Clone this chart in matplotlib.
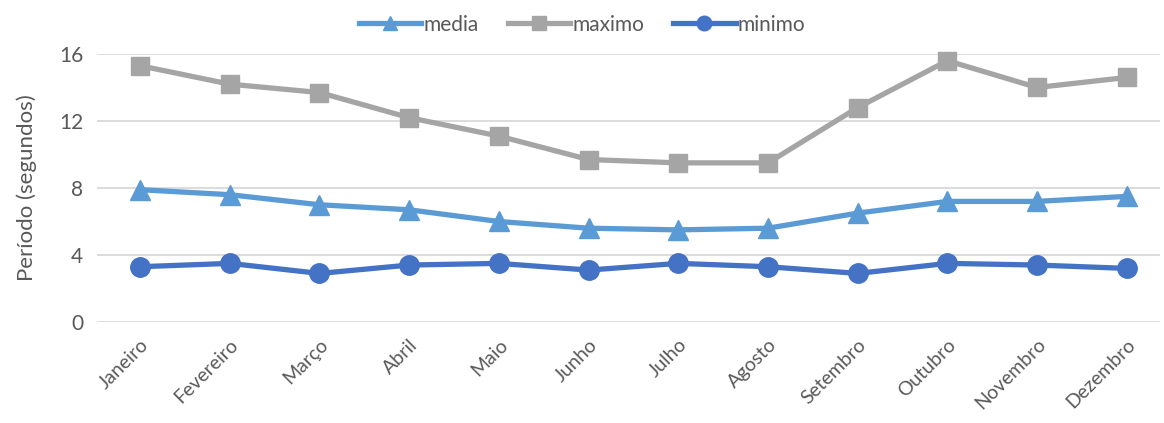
import matplotlib.pyplot as plt

meses = ['Janeiro', 'Fevereiro', 'Março', 'Abril', 'Maio', 'Junho',
         'Julho', 'Agosto', 'Setembro', 'Outubro', 'Novembro', 'Dezembro']
media = [7.9, 7.6, 7.0, 6.7, 6.0, 5.6, 5.5, 5.6, 6.5, 7.2, 7.2, 7.5]
maximo = [15.3, 14.2, 13.7, 12.2, 11.1, 9.7, 9.5, 9.5, 12.8, 15.6, 14.0, 14.6]
minimo = [3.3, 3.5, 2.9, 3.4, 3.5, 3.1, 3.5, 3.3, 2.9, 3.5, 3.4, 3.2]
y_ticks = [0, 4, 8, 12, 16]

plt.rcParams['font.family'] = ['Lato', 'DejaVu Sans']
txt = '#595959'

fig = plt.figure(figsize=(11.64, 4.23), dpi=100)
ax = fig.add_axes([97 / 1164, 1 - 322 / 423, (1160 - 97) / 1164, (322 - 54) / 423])

x = list(range(len(meses)))
ax.plot(x, media, color='#5B9BD5', lw=3.8, marker='^', ms=14, label='media', clip_on=False, zorder=3)
ax.plot(x, maximo, color='#A5A5A5', lw=3.8, marker='s', ms=13, label='maximo', clip_on=False, zorder=3)
ax.plot(x, minimo, color='#4472C4', lw=3.8, marker='o', ms=14, label='minimo', clip_on=False, zorder=3)

ax.set_xlim(-0.48, 11.37)
ax.set_ylim(0, 16)
ax.set_yticks(y_ticks)
ax.set_yticklabels([str(t) for t in y_ticks], fontsize=15, color=txt)
ax.set_xticks(x)
ax.set_xticklabels(meses, rotation=45, ha='right', rotation_mode='anchor', fontsize=14, color=txt)
ax.tick_params(axis='both', length=0, pad=10)
ax.grid(True, axis='y', color='#D9D9D9', lw=1.3)
ax.set_axisbelow(True)
for s in ax.spines.values():
    s.set_visible(False)
ax.set_ylabel('Período (segundos)', fontsize=16, color=txt, labelpad=16)

fig.legend(loc='upper center', bbox_to_anchor=(0.5, 1.01), ncol=3, frameon=False,
           fontsize=15, labelcolor=txt, handlelength=3.0, handletextpad=0.1, columnspacing=1.4,
           markerscale=0.75)

fig.savefig('out.png', dpi=100)
